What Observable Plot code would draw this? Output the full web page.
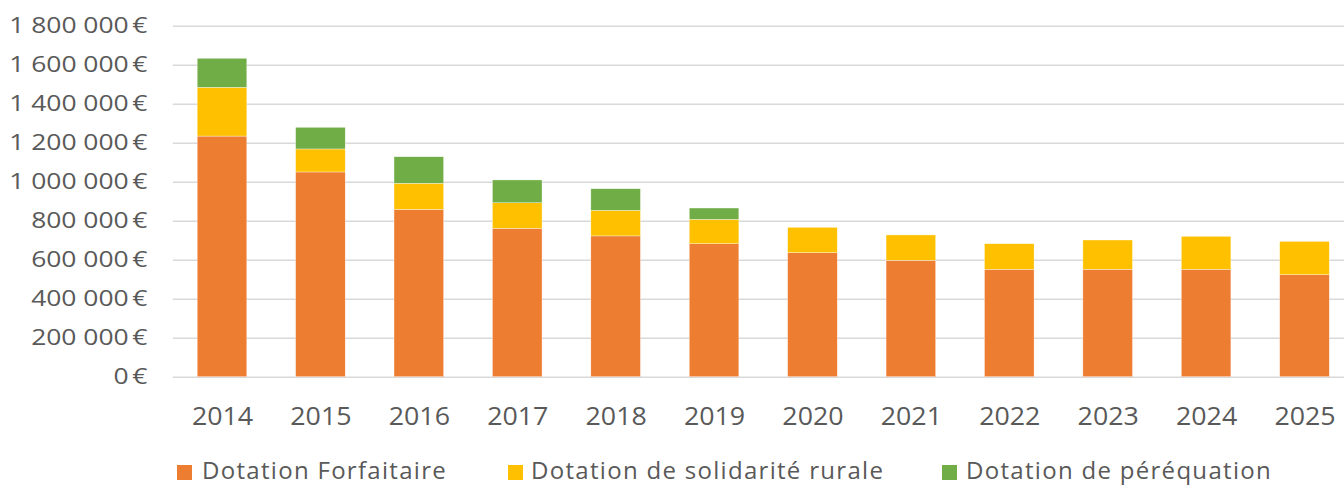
<!DOCTYPE html>
<html>
<head>
<meta charset="utf-8">
<script src="https://cdn.jsdelivr.net/npm/d3@7"></script>
<script src="https://cdn.jsdelivr.net/npm/@observablehq/plot@0.6"></script>
<style>
  html, body { margin: 0; padding: 0; background: #fff; overflow: hidden; }
  body { position: relative; width: 1344px; height: 486px; font-family: "Open Sans", sans-serif; }
  #chart svg { display: block; }
  .legend-item { position: absolute; top: 458px; height: 24px; line-height: 24px; font-size: 24px; color: #595959; white-space: nowrap; letter-spacing: 1.3px; }
  .swatch { position: absolute; top: 465px; width: 15px; height: 15px; }
</style>
</head>
<body>
<div id="chart"></div>
<div id="legend"></div>
<script>
const years = ["2014","2015","2016","2017","2018","2019","2020","2021","2022","2023","2024","2025"];
const seriesNames = ["Dotation Forfaitaire", "Dotation de solidarité rurale", "Dotation de péréquation"];
const seriesColors = ["#ED7D31", "#FFC000", "#70AD47"];
const forfaitaire = [1234000, 1050000, 858000, 761000, 722000, 682000, 636000, 597000, 551000, 551000, 551000, 523000];
const solidariteRurale = [250000, 118000, 134000, 131000, 131000, 125000, 130000, 130000, 131000, 150000, 169000, 171000];
const perequation = [149000, 111000, 136000, 117000, 111000, 58000, 0, 0, 0, 0, 0, 0];
const yTicks = [0, 200000, 400000, 600000, 800000, 1000000, 1200000, 1400000, 1600000, 1800000];

const seriesValues = [forfaitaire, solidariteRurale, perequation];
const data = [];
seriesNames.forEach((s, si) => {
  years.forEach((y, yi) => {
    const v = seriesValues[si][yi];
    if (v > 0) data.push({year: y, series: s, value: v});
  });
});

const fmt = d => d3.format(",")(d).replace(/,/g, " ") + "\u202F€";

const chart = Plot.plot({
  width: 1344,
  height: 440,
  marginLeft: 172.8,
  marginRight: -9.7,
  marginTop: 25.7,
  marginBottom: 63.3,
  style: {fontFamily: "Open Sans, sans-serif", color: "#595959", background: "#fff", overflow: "visible"},
  x: {domain: years, paddingInner: 0.496, paddingOuter: 0.248, round: false, label: null},
  y: {domain: [0, 1800000], label: null},
  color: {domain: seriesNames, range: seriesColors},
  marks: [
    Plot.ruleY(yTicks, {stroke: "#D9D9D9", strokeWidth: 1.6}),
    Plot.barY(data, {x: "year", y: "value", fill: "series", stroke: "#fff", strokeWidth: 0.5, strokeOpacity: 0.7}),
    Plot.axisY(yTicks, {tickSize: 0, tickPadding: 26, tickFormat: fmt, fontSize: 21, fill: "#595959", label: null}),
    Plot.axisX({tickSize: 0, tickPadding: 29, fontSize: 26, fill: "#595959", label: null})
  ]
});
document.getElementById("chart").appendChild(chart);

// Widen y tick labels horizontally around their right-anchored point
function widen(sel, sx) {
  sel.each(function() {
    const x = +this.getAttribute("x") || 0;
    const y = +this.getAttribute("y") || 0;
    const t = this.getAttribute("transform") || "";
    this.setAttribute("transform", `${t} translate(${x},${y}) scale(${sx},1) translate(${-x},${-y})`);
  });
}
widen(d3.select(chart).selectAll("text").filter(function() { return this.textContent.trim().endsWith("€"); }), 1.26);
widen(d3.select(chart).selectAll("text").filter(function() { return /^\d{4}$/.test(this.textContent.trim()); }), 1.03);

const legendPos = [
  {sw: 177, tx: 202},
  {sw: 508, tx: 531},
  {sw: 942, tx: 966}
];
const legend = document.getElementById("legend");
seriesNames.forEach((s, i) => {
  const sw = document.createElement("div");
  sw.className = "swatch";
  sw.style.left = legendPos[i].sw + "px";
  sw.style.background = seriesColors[i];
  legend.appendChild(sw);
  const t = document.createElement("div");
  t.className = "legend-item";
  t.style.left = legendPos[i].tx + "px";
  t.textContent = s;
  legend.appendChild(t);
});
</script>
</body>
</html>
